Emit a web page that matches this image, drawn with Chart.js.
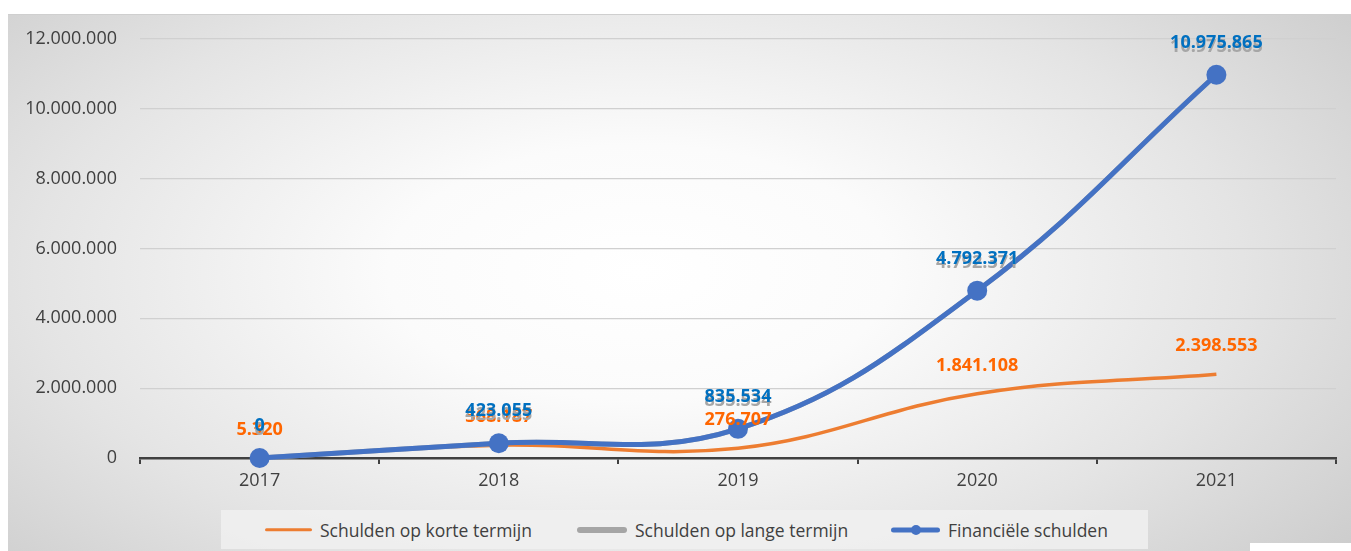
<!DOCTYPE html>
<html>
<head>
<meta charset="utf-8">
<script src="https://cdn.jsdelivr.net/npm/chart.js@4.4.1/dist/chart.umd.min.js"></script>
<style>
  html, body { margin: 0; padding: 0; background: #fff; }
  body { width: 1351px; height: 551px; position: relative; overflow: hidden; font-family: 'Open Sans', sans-serif; }
  .bg {
    position: absolute; left: 8px; top: 14px; right: 0; bottom: 0;
    background: radial-gradient(ellipse 75% 95% at 47% 48%, #ffffff 0%, #fbfbfb 25%, #e4e4e4 60%, #c4c4c4 100%);
    border-top: 1px solid #cfcfcf;
  }
  .corner { position: absolute; left: 1250px; top: 543px; width: 101px; height: 8px; background: #fff; }
  #chart { position: absolute; left: 0; top: 0; }
  .legend {
    position: absolute; left: 221px; top: 510px; width: 927px; height: 39px;
    background: rgba(240, 240, 240, 0.85);
  }
  .legend-item { position: absolute; top: 0; height: 39px; display: flex; align-items: center; font-size: 17.5px; color: #404040; }
  .swatch { position: relative; margin-right: 8px; height: 10px; }
  .swatch .bar { position: absolute; left: 0; right: 0; top: 50%; transform: translateY(-50%); border-radius: 3px; }
  .swatch .dot { position: absolute; left: 50%; top: 50%; width: 10px; height: 10px; border-radius: 50%; transform: translate(-50%, -50%); }
</style>
</head>
<body>
<div class="bg"></div>
<div class="corner"></div>
<canvas id="chart" width="1351" height="500"></canvas>
<div class="legend" id="legend"></div>

<script>
// Chart data
const years = ['2017', '2018', '2019', '2020', '2021'];
const kortTermijn = [5320, 368187, 276707, 1841108, 2398553];
const langTermijn = [0, 423055, 835534, 4792371, 10975865];
const financieleSchulden = [0, 423055, 835534, 4792371, 10975865];
const seriesNames = ['Schulden op korte termijn', 'Schulden op lange termijn', 'Financiële schulden'];
const yTicks = [0, 2000000, 4000000, 6000000, 8000000, 10000000, 12000000];

// Colours
const orange = '#ed7d31';
const grey = '#a5a5a5';
const blue = '#4472c4';
const labelColors = ['#ff6600', '#a6a6a6', '#0070c0'];
const labelOffsets = [28, 28, 32];

function formatNumber(value) {
  return String(Math.round(value)).replace(/\B(?=(\d{3})+(?!\d))/g, '.');
}

// Draws the value labels above each point
const valueLabels = {
  id: 'valueLabels',
  afterDatasetsDraw(chart) {
    const ctx = chart.ctx;
    ctx.save();
    ctx.font = 'bold 18px "Open Sans"';
    ctx.textAlign = 'center';
    ctx.textBaseline = 'middle';
    chart.data.datasets.forEach((ds, i) => {
      const meta = chart.getDatasetMeta(i);
      ctx.fillStyle = labelColors[i];
      meta.data.forEach((pt, j) => {
        ctx.fillText(formatNumber(ds.data[j]), pt.x, pt.y - labelOffsets[i]);
      });
    });
    ctx.restore();
  }
};

const ctx = document.getElementById('chart');
new Chart(ctx, {
  type: 'line',
  data: {
    labels: years,
    datasets: [
      {
        label: seriesNames[0],
        data: kortTermijn,
        order: 2,
        borderColor: orange,
        borderWidth: 3.5,
        tension: 0.4,
        pointRadius: 0,
        clip: false
      },
      {
        label: seriesNames[1],
        data: langTermijn,
        order: 1,
        borderColor: grey,
        borderWidth: 5,
        tension: 0.4,
        pointRadius: 0,
        clip: false
      },
      {
        label: seriesNames[2],
        data: financieleSchulden,
        order: 0,
        borderColor: blue,
        backgroundColor: blue,
        borderWidth: 5,
        tension: 0.4,
        pointRadius: 10,
        pointBorderWidth: 0,
        pointBackgroundColor: blue,
        clip: false
      }
    ]
  },
  options: {
    responsive: false,
    animation: false,
    layout: { padding: { left: 0, right: 15, top: 39, bottom: 0 } },
    plugins: {
      legend: { display: false },
      tooltip: { enabled: false }
    },
    scales: {
      x: {
        offset: true,
        grid: {
          offset: true,
          drawOnChartArea: false,
          color: '#404040',
          lineWidth: 2,
          tickLength: 6
        },
        border: { color: '#404040', width: 2.5 },
        ticks: {
          color: '#404040',
          font: { family: 'Open Sans', size: 18 },
          padding: 6
        },
        afterFit: (scale) => { scale.height = 42; }
      },
      y: {
        min: 0,
        max: 12000000,
        afterBuildTicks: (scale) => { scale.ticks = yTicks.map(v => ({ value: v })); },
        grid: {
          color: '#d0d0d0',
          lineWidth: 1.2,
          drawTicks: false
        },
        border: { display: false },
        ticks: {
          color: '#404040',
          font: { family: 'Open Sans', size: 18 },
          padding: 23,
          callback: (value) => formatNumber(value)
        },
        afterFit: (scale) => { scale.width = 140; }
      }
    }
  },
  plugins: [valueLabels]
});

// HTML legend
const legendEl = document.getElementById('legend');
const swatchStyles = [
  { color: orange, width: 47, thick: 3.5, dot: false },
  { color: grey, width: 50, thick: 6, dot: false },
  { color: blue, width: 49, thick: 5, dot: true }
];
const legendLefts = [44, 356, 670];
seriesNames.forEach((name, i) => {
  const s = swatchStyles[i];
  const item = document.createElement('div');
  item.className = 'legend-item';
  item.style.left = legendLefts[i] + 'px';
  item.innerHTML = `
    <span class="swatch" style="width:${s.width}px">
      <span class="bar" style="background:${s.color};height:${s.thick}px"></span>
      ${s.dot ? `<span class="dot" style="background:${s.color}"></span>` : ''}
    </span>
    <span>${name}</span>`;
  legendEl.appendChild(item);
});
</script>
</body>
</html>
